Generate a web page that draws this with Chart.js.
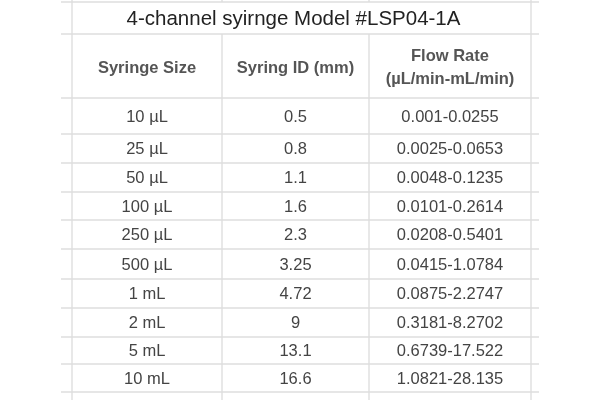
<!DOCTYPE html>
<html><head><meta charset="utf-8">
<script src="https://cdn.jsdelivr.net/npm/chart.js@4"></script>
<style>html,body{margin:0;background:#fff}#w{width:600px;height:400px}</style>
</head><body><div id="w"><canvas id="c"></canvas></div>
<script>
const title = "4-channel syirnge Model #LSP04-1A";
const headers = [["Syringe Size"], ["Syring ID (mm)"], ["Flow Rate", "(µL/min-mL/min)"]];
const sizes = ["10 µL","25 µL","50 µL","100 µL","250 µL","500 µL","1 mL","2 mL","5 mL","10 mL"];
const ids = ["0.5","0.8","1.1","1.6","2.3","3.25","4.72","9","13.1","16.6"];
const flows = ["0.001-0.0255","0.0025-0.0653","0.0048-0.1235","0.0101-0.2614","0.0208-0.5401","0.0415-1.0784","0.0875-2.2747","0.3181-8.2702","0.6739-17.522","1.0821-28.135"];

// row heights (relative units) : title, header, data rows
const rowW = [32, 64, 36, 29, 29, 28, 29, 30, 29, 29, 27, 28];
const rowB = [0]; rowW.forEach(w => rowB.push(rowB[rowB.length-1] + w));
const colB = [0, 150, 297, 459];

const tablePlugin = {
  id: 'table',
  afterDraw(chart) {
    const ctx = chart.ctx, xs = chart.scales.x, ys = chart.scales.y;
    const X = v => xs.getPixelForValue(v), Y = v => ys.getPixelForValue(v);
    ctx.save();
    ctx.strokeStyle = '#dedede'; ctx.lineWidth = 1.4;
    rowB.forEach((b, i) => {
      ctx.beginPath();
      ctx.moveTo(X(0) - 11, Y(b)); ctx.lineTo(X(colB[3]) + 8, Y(b)); ctx.stroke();
    });
    colB.forEach((b, i) => {
      const top = (i === 0 || i === 3) ? Y(0) - 4 : Y(rowB[1]);
      ctx.beginPath(); ctx.moveTo(X(b), top); ctx.lineTo(X(b), Y(rowB[rowB.length-1]) + 8); ctx.stroke();
      if (i === 1 || i === 2) { ctx.beginPath(); ctx.moveTo(X(b), Y(0) - 4); ctx.lineTo(X(b), Y(0)); ctx.stroke(); }
    });
    ctx.textAlign = 'center'; ctx.textBaseline = 'middle';
    const cx = c => (X(colB[c]) + X(colB[c+1])) / 2;
    const cy = r => (Y(rowB[r]) + Y(rowB[r+1])) / 2;
    ctx.fillStyle = '#222'; ctx.font = '20.5px "Liberation Sans", Arial, sans-serif';
    ctx.fillText(title, (X(0) + X(colB[3])) / 2 - 8, cy(0) + 1);
    ctx.fillStyle = '#555'; ctx.font = 'bold 16.5px "Liberation Sans", Arial, sans-serif';
    headers.forEach((h, c) => {
      h.forEach((t, k) => ctx.fillText(t, cx(c), cy(1) + (k - (h.length - 1) / 2) * 23 + 2));
    });
    ctx.fillStyle = '#444'; ctx.font = '16.5px "Liberation Sans", Arial, sans-serif';
    [sizes, ids, flows].forEach((col, c) => col.forEach((t, r) => ctx.fillText(t, cx(c), cy(r + 2) + 1)));
    ctx.restore();
  }
};

new Chart(document.getElementById('c'), {
  type: 'scatter',
  data: { datasets: [{ data: [], pointRadius: 0 }] },
  options: {
    responsive: true, maintainAspectRatio: false, animation: false,
    layout: { padding: { left: 72, right: 69, top: 2, bottom: 8 } },
    plugins: { legend: { display: false }, tooltip: { enabled: false } },
    scales: {
      x: { type: 'linear', min: 0, max: colB[3], display: false },
      y: { type: 'linear', min: 0, max: rowB[rowB.length-1], reverse: true, display: false }
    }
  },
  plugins: [tablePlugin]
});
</script></body></html>
